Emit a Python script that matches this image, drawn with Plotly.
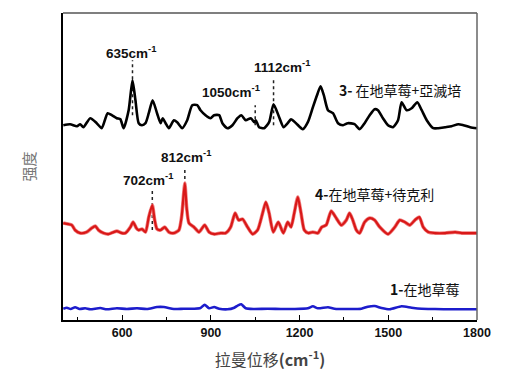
import plotly.graph_objects as go

# Series 3: 在地草莓+亞滅培 (black)
x3 = [401, 424, 447, 458, 469, 492, 514, 531, 551, 565, 582, 594, 605, 622, 635, 645, 656, 667, 679, 690,
      703, 718, 730, 737, 747, 758, 775, 786, 803, 820, 837, 854, 865, 882, 899, 911, 928, 939, 956, 973,
      990, 1003, 1018, 1035, 1047, 1052, 1063, 1080, 1097, 1112, 1131, 1146, 1160, 1171, 1188, 1211, 1228,
      1245, 1259, 1271, 1282, 1296, 1313, 1330, 1347, 1363, 1386, 1403, 1420, 1437, 1454, 1465, 1482, 1499,
      1516, 1533, 1545, 1562, 1579, 1598, 1613, 1630, 1652, 1669, 1692, 1714, 1737, 1754, 1777, 1800]
y3 = [195, 196, 194, 196, 193, 202, 197, 192, 207, 205, 202, 201, 192, 210, 240, 220, 197, 195, 197, 207,
      220, 207, 197, 202, 197, 192, 200, 198, 192, 200, 215, 215, 210, 205, 202, 205, 205, 197, 192, 195,
      202, 205, 200, 202, 198, 200, 193, 192, 198, 216, 203, 193, 197, 201, 197, 191, 198, 213, 225, 234,
      225, 210, 207, 197, 195, 197, 196, 191, 197, 205, 211, 210, 202, 195, 193, 200, 218, 210, 212, 218,
      210, 200, 192, 192, 193, 194, 196, 195, 193, 192]

# Series 4: 在地草莓+待克利 (red)
x4 = [401, 418, 430, 441, 458, 480, 497, 509, 520, 537, 554, 571, 582, 599, 611, 628, 637, 648, 656, 667,
      679, 690, 702, 710, 718, 730, 744, 758, 775, 792, 801, 812, 818, 826, 843, 860, 879, 894, 911, 933,
      950, 967, 982, 994, 1007, 1024, 1041, 1058, 1075, 1086, 1097, 1111, 1128, 1145, 1160, 1171, 1182,
      1194, 1205, 1216, 1230, 1245, 1262, 1275, 1290, 1307, 1324, 1341, 1358, 1369, 1380, 1392, 1403, 1420,
      1437, 1454, 1471, 1499, 1522, 1539, 1556, 1573, 1590, 1605, 1618, 1635, 1658, 1692, 1726, 1749, 1771, 1800]
y4 = [97, 96, 95, 90, 87, 88, 92, 94, 90, 87, 86, 88, 89, 87, 87, 93, 98, 92, 90, 91,
      88, 103, 115, 100, 91, 90, 93, 88, 87, 90, 103, 137, 113, 97, 93, 88, 95, 88, 86, 87,
      87, 93, 107, 100, 101, 93, 86, 90, 107, 118, 107, 88, 98, 87, 98, 93, 107,
      123, 107, 90, 87, 88, 87, 93, 95, 109, 102, 95, 100, 107, 100, 90, 87, 98,
      102, 100, 93, 86, 93, 100, 98, 95, 100, 103, 93, 88, 87, 87, 88, 87, 87, 87]

# Series 1: 在地草莓 (blue)
x1 = [401, 413, 426, 441, 456, 475, 492, 526, 548, 582, 616, 650, 684, 718, 741, 775, 809, 843, 865, 879,
      894, 911, 928, 956, 979, 992, 1003, 1018, 1046, 1092, 1137, 1182, 1228, 1245, 1262, 1296, 1318, 1363,
      1409, 1431, 1454, 1477, 1505, 1545, 1579, 1613, 1658, 1714, 1800]
y1 = [11.3, 12.3, 11, 12.7, 11, 11.7, 10.7, 12, 10.7, 11.7, 11, 11.7, 11, 13, 13, 11, 11.3, 11.3, 12, 15.3,
      11.7, 13, 11.3, 10.7, 12.3, 14.7, 15.7, 11.7, 11, 11.3, 11, 11, 11.7, 13.7, 11.7, 12.7, 11.3, 11,
      11.3, 13.3, 14, 12, 10.7, 13.7, 12.3, 11.3, 11, 10.7, 10.7]

# Peak markers (dotted guide lines) and their labels
peak_x = [635, 1050, 1112, 702, 812]
peak_y_top = [260, 215, 242, 130, 153]
peak_y_bot = [205, 195, 195, 90, 117]
peak_text = ["635cm<sup>-1</sup>", "1050cm<sup>-1</sup>", "1112cm<sup>-1</sup>",
             "702cm<sup>-1</sup>", "812cm<sup>-1</sup>"]
peak_label_x = [629, 968, 1140, 686, 815]
peak_label_y = [268, 229, 254, 141, 164]

series_labels = ["<b>3-</b> 在地草莓+亞滅培", "<b>4-</b>在地草莓+待克利", "<b>1-</b>在地草莓"]
series_label_x = [1541, 1452, 1622]
series_label_y = [230, 126, 31]

xticks = [600, 900, 1200, 1500, 1800]

fig = go.Figure()

for px, yt, yb in zip(peak_x, peak_y_top, peak_y_bot):
    fig.add_trace(go.Scatter(x=[px, px], y=[yb, yt], mode="lines",
                             line=dict(color="#222", width=1.5, dash="dot"),
                             hoverinfo="skip", showlegend=False))

fig.add_trace(go.Scatter(x=x3, y=y3, mode="lines",
                         line=dict(color="#000000", width=2.6, shape="spline", smoothing=0.6),
                         showlegend=False))
fig.add_trace(go.Scatter(x=x4, y=y4, mode="lines",
                         line=dict(color="#f08080", width=3.6, shape="spline", smoothing=0.6),
                         showlegend=False, hoverinfo="skip"))
fig.add_trace(go.Scatter(x=x4, y=y4, mode="lines",
                         line=dict(color="#d91818", width=2.2, shape="spline", smoothing=0.6),
                         showlegend=False))
fig.add_trace(go.Scatter(x=x1, y=y1, mode="lines",
                         line=dict(color="#1c1ccc", width=2.6, shape="spline", smoothing=0.6),
                         showlegend=False))

for tx, ty, t in zip(peak_label_x, peak_label_y, peak_text):
    fig.add_annotation(x=tx, y=ty, text="<b>" + t + "</b>", showarrow=False,
                       font=dict(family="Liberation Sans, Arial", size=13.5, color="#111"))

for tx, ty, t in zip(series_label_x, series_label_y, series_labels):
    fig.add_annotation(x=tx, y=ty, text=t, showarrow=False,
                       font=dict(family="Noto Sans CJK SC, Liberation Sans", size=14, color="#111"))

# top and right frame lines
fig.add_shape(type="line", xref="paper", yref="paper", x0=0, x1=1, y0=1, y1=1,
              line=dict(color="#555", width=1.5))
fig.add_shape(type="line", xref="paper", yref="paper", x0=1, x1=1, y0=0, y1=1,
              line=dict(color="#666", width=1.5))

fig.update_layout(
    width=513, height=377,
    margin=dict(l=63, r=36, t=13, b=57, autoexpand=False),
    paper_bgcolor="white", plot_bgcolor="white",
    xaxis=dict(range=[400, 1800], tickvals=xticks, ticktext=[str(v) for v in xticks],
               ticks="inside", ticklen=5, tickwidth=1.2, tickcolor="#000", automargin=False,
               minor=dict(tickvals=[450, 750, 1050, 1350, 1650], ticks="inside", ticklen=3, tickcolor="#000"),
               showline=True, linecolor="#000", linewidth=1.5, showgrid=False, zeroline=False,
               tickfont=dict(family="Liberation Sans, Arial", size=12.5, color="#111", weight="bold"),
               title=dict(text="拉曼位移<b>(cm<sup>-1</sup>)</b>", standoff=16,
                          font=dict(family="Noto Sans CJK SC", size=16, color="#444"))),
    yaxis=dict(range=[0, 307.3], showticklabels=False, ticks="", showgrid=False, zeroline=False,
               showline=True, linecolor="#000", linewidth=1.5, automargin=False,
               title=dict(text="强度", standoff=22,
                          font=dict(family="Noto Sans CJK SC", size=15, color="#777"))),
)

fig.write_html("out.html", config={"displayModeBar": False},
               post_script="document.body.style.margin='0';document.body.style.padding='0';")
